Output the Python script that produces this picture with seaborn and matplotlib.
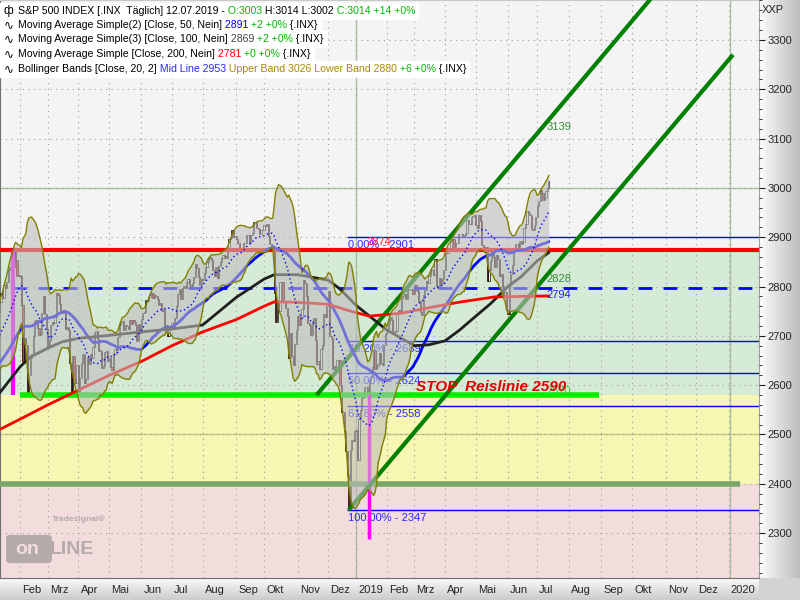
import numpy as np
import pandas as pd
import matplotlib
matplotlib.use("Agg")
import matplotlib.pyplot as plt
import matplotlib.transforms as mtransforms
from matplotlib.patches import Rectangle, FancyBboxPatch
import seaborn as sns

# ---- data -------------------------------------------------------------
# closes before the first visible bar (needed for the 20/50 day indicators)
warmup_closes = [
    2575, 2579, 2580, 2588, 2591, 2591, 2594, 2585, 2582, 2585, 2579, 2565, 2586, 2579, 2582,
    2599, 2597, 2602, 2601, 2627, 2626, 2648,
    2642, 2639, 2630, 2629, 2637, 2652, 2660, 2664, 2663, 2652, 2676, 2690, 2681, 2679, 2685,
    2683, 2681, 2683, 2688, 2674,
    2696, 2713, 2724, 2743, 2748, 2751, 2748,
]
closes_2018 = [
    # Jan (from 11.01.)
    2768, 2786, 2776, 2803, 2798, 2810, 2833, 2839, 2838, 2839, 2873, 2854, 2822, 2824,
    # Feb
    2822, 2762, 2649, 2695, 2682, 2581, 2620, 2656, 2663, 2699, 2731, 2732, 2716, 2701, 2704,
    2747, 2780, 2744, 2714,
    # Mrz
    2678, 2691, 2721, 2728, 2727, 2739, 2787, 2783, 2765, 2749, 2747, 2752, 2713, 2717, 2712,
    2644, 2588, 2659, 2613, 2605, 2641,
    # Apr
    2582, 2614, 2645, 2663, 2604, 2613, 2657, 2642, 2664, 2656, 2678, 2706, 2709, 2693, 2670,
    2670, 2635, 2639, 2667, 2670, 2648,
    # Mai
    2655, 2636, 2630, 2663, 2673, 2672, 2698, 2723, 2728, 2730, 2711, 2722, 2720, 2713, 2733,
    2724, 2733, 2728, 2721, 2690, 2724, 2705,
    # Jun
    2735, 2747, 2749, 2772, 2770, 2779, 2782, 2787, 2776, 2782, 2780, 2774, 2763, 2767, 2750,
    2755, 2717, 2723, 2700, 2716, 2718,
    # Jul
    2727, 2713, 2737, 2760, 2784, 2794, 2774, 2798, 2801, 2798, 2810, 2816, 2804, 2802, 2807,
    2820, 2846, 2837, 2819, 2803, 2816,
    # Aug
    2813, 2827, 2840, 2850, 2858, 2858, 2854, 2833, 2822, 2840, 2818, 2841, 2850, 2857, 2863,
    2862, 2857, 2875, 2897, 2898, 2914, 2901, 2902,
    # Sep
    2897, 2889, 2878, 2872, 2877, 2888, 2889, 2904, 2905, 2889, 2904, 2908, 2931, 2930, 2919,
    2916, 2906, 2914, 2914,
    # Okt
    2925, 2923, 2926, 2902, 2886, 2884, 2880, 2786, 2728, 2767, 2751, 2810, 2809, 2769, 2768,
    2756, 2741, 2656, 2706, 2659, 2641, 2683, 2712,
    # Nov
    2740, 2723, 2738, 2755, 2814, 2807, 2781, 2726, 2722, 2702, 2730, 2736, 2691, 2642, 2650,
    2633, 2673, 2682, 2744, 2738, 2760,
    # Dez
    2790, 2700, 2696, 2633, 2638, 2637, 2651, 2651, 2600, 2546, 2546, 2507, 2467, 2417, 2351,
    2468, 2489, 2486, 2507,
]
closes_2019 = [
    # Jan
    2510, 2448, 2532, 2550, 2574, 2585, 2597, 2596, 2583, 2610, 2616, 2636, 2671, 2633, 2639,
    2642, 2665, 2644, 2640, 2681, 2704,
    # Feb
    2707, 2725, 2738, 2732, 2706, 2708, 2710, 2745, 2753, 2746, 2776, 2780, 2785, 2775, 2793,
    2796, 2794, 2792, 2784,
    # Mrz
    2804, 2793, 2790, 2771, 2749, 2743, 2783, 2792, 2811, 2808, 2822, 2833, 2833, 2824, 2855,
    2801, 2798, 2818, 2805, 2815, 2834,
    # Apr
    2867, 2867, 2873, 2879, 2893, 2896, 2878, 2888, 2888, 2907, 2906, 2907, 2900, 2905, 2908,
    2934, 2927, 2926, 2940, 2943, 2946,
    # Mai
    2924, 2918, 2946, 2932, 2884, 2879, 2871, 2881, 2812, 2834, 2851, 2876, 2860, 2840, 2864,
    2856, 2822, 2826, 2802, 2783, 2789, 2752,
    # Jun
    2744, 2803, 2826, 2843, 2873, 2887, 2886, 2880, 2892, 2887, 2890, 2918, 2926, 2954, 2950,
    2945, 2917, 2914, 2925, 2942,
    # Jul
    2964, 2973, 2996, 2990, 2976, 2980, 2993, 3000, 3014,
]
holidays = [
    "2018-01-15", "2018-02-19", "2018-03-30", "2018-05-28", "2018-07-04", "2018-09-03",
    "2018-11-22", "2018-12-05", "2018-12-25", "2019-01-01", "2019-01-21", "2019-02-18",
    "2019-04-19", "2019-05-27", "2019-07-04",
]

# simple moving averages 100 / 200
sma100_dates = [
    "2018-01-11", "2018-02-01", "2018-02-12", "2018-03-01", "2018-03-15", "2018-04-02",
    "2018-05-01", "2018-06-01", "2018-07-02", "2018-08-01", "2018-09-04", "2018-10-01",
    "2018-10-10", "2018-11-01", "2018-12-03", "2018-12-14", "2019-01-02", "2019-02-01",
    "2019-03-01", "2019-03-15", "2019-04-01", "2019-04-15", "2019-05-01", "2019-05-15",
    "2019-06-03", "2019-06-14", "2019-07-01", "2019-07-12",
]
sma100_values = [
    2584, 2637, 2657, 2675, 2688, 2695, 2701, 2708, 2714, 2722, 2778, 2815,
    2824, 2824, 2813, 2795, 2762, 2712, 2680, 2682, 2690, 2712, 2740, 2765,
    2800, 2820, 2852, 2869,
]
sma200_dates = [
    "2018-01-11", "2018-02-01", "2018-03-01", "2018-04-02", "2018-05-01", "2018-06-01",
    "2018-07-02", "2018-08-01", "2018-09-04", "2018-10-01", "2018-10-10", "2018-11-01",
    "2018-12-03", "2018-12-21", "2019-01-15", "2019-02-15", "2019-03-15", "2019-04-16",
    "2019-05-20", "2019-07-12",
]
sma200_values = [
    2510, 2531, 2560, 2590, 2620, 2648, 2680, 2708, 2733, 2760, 2769, 2768,
    2764, 2752, 2740, 2746, 2757, 2769, 2779, 2781,
]

# drawing tools
resistance = 2874
support_dashed = 2797
stop_line = 2580
base_line = 2400
fib_values = [2901, 2689, 2624, 2558, 2347]
fib_labels = ["0.00% - 2901", "38.20% - 2689", "50.00% - 2624", "61.80% - 2558", "100.00% - 2347"]
channel_low = (("2018-12-24", 2347), ("2020-01-06", 3270))
channel_high = (("2018-11-20", 2580), ("2019-10-31", 3416))
marker_lines = [("2018-01-25", 2874, 2580, 3.0), ("2019-01-15", 2582, 2288, 2.5)]

months_de = ["Jan", "Feb", "Mrz", "Apr", "Mai", "Jun", "Jul", "Aug", "Sep", "Okt", "Nov", "Dez"]

# ---- prep -------------------------------------------------------------
W, H = 800, 600
FAM = ["Liberation Sans", "DejaVu Sans"]
FS = 8
LFS = 7.6
PX_PER_BAR = 1.461

hist_dates = pd.bdate_range("2018-01-11", "2019-07-12", freq="C", holidays=holidays)
future_dates = pd.bdate_range("2019-07-15", "2020-02-14")
all_dates = hist_dates.append(future_dates)


def bar_of(d):
    return int(all_dates.searchsorted(pd.Timestamp(d)))


closes = np.array(closes_2018 + closes_2019, dtype=float)
n = len(closes)
x = np.arange(n)
full = pd.Series(warmup_closes + list(closes), dtype=float)
opens = full.shift(1).to_numpy()[len(warmup_closes):]

sma50 = full.rolling(50).mean().to_numpy()[len(warmup_closes):]
bb_mid = full.rolling(20).mean()
bb_std = full.rolling(20).std(ddof=0)
bb_up = (bb_mid + 2 * bb_std).to_numpy()[len(warmup_closes):]
bb_lo = (bb_mid - 2 * bb_std).to_numpy()[len(warmup_closes):]
bb_mid = bb_mid.to_numpy()[len(warmup_closes):]

# ---- figure -----------------------------------------------------------
sns.set_style("white")
plt.rcParams["font.family"] = FAM
fig = plt.figure(figsize=(8, 6), dpi=100)

# background strips of the axis areas
bg_img = np.ones((H, W, 3))
col = np.linspace(0.99, 0.74, W - 759)
bg_img[:, 759:, :] = col[None, :, None]
row = np.linspace(0.98, 0.80, H - 578)
bg_img[578:, :759, :] = row[:, None, None]
bg_img[578:, 759:, :] = 0.83
bg = fig.add_axes([0, 0, 1, 1], zorder=-1)
bg.imshow(bg_img, aspect="auto", extent=(0, W, H, 0))
bg.axis("off")

ax = fig.add_axes([0, 22 / H, 759 / W, 578 / H], zorder=1)
x_left = 14 - 20 / PX_PER_BAR
x_right = x_left + 759 / PX_PER_BAR
ax.set_facecolor("#f4f4f4")

# zones
ax.axhspan(resistance, 3400, color="#f4f4f4", zorder=0.1, lw=0)
ax.axhspan(stop_line, resistance, color="#d6ebd6", zorder=0.1, lw=0)
ax.axhspan(base_line, stop_line, color="#f7f6b2", zorder=0.1, lw=0)
ax.axhspan(2200, base_line, color="#f3dcdc", zorder=0.1, lw=0)

# month ticks
tick_pos, tick_lab = [], []
for i in range(1, len(all_dates)):
    if all_dates[i].month != all_dates[i - 1].month and i < x_right - 3:
        d = all_dates[i]
        tick_pos.append(i)
        tick_lab.append(str(d.year) if d.month == 1 else months_de[d.month - 1])
ax.set_xticks(tick_pos)
ax.set_xticklabels(tick_lab)
ax.set_yticks(np.arange(2300, 3301, 100))
ax.set_yticks(np.arange(2220, 3381, 20), minor=True)
ax.set_xlim(x_left, x_right)
ax.set_ylim(2209, 3381)
ax.yaxis.tick_right()
ax.tick_params(axis="x", direction="out", length=4, pad=1, labelsize=FS, color="#404040")
ax.tick_params(axis="y", which="major", direction="out", length=4, pad=2, labelsize=FS,
               color="#202020")
ax.tick_params(axis="y", which="minor", direction="out", length=2, color="#202020")
offset = mtransforms.ScaledTranslation(1.5 / 72, 0, fig.dpi_scale_trans)
for lbl in ax.get_xticklabels():
    lbl.set_horizontalalignment("left")
    lbl.set_transform(lbl.get_transform() + offset)

ax.set_axisbelow(False)
ax.grid(True, which="major", color="#9a9a9a", ls=(0, (1, 4)), lw=0.8, zorder=0.5)
for s in ["left", "bottom"]:
    ax.spines[s].set_color("#707070")
ax.spines["right"].set_color("#a0a0a0")
ax.spines["top"].set_color("#c8c8c8")

# solid helper lines
ax.axhline(3000, color="#a9c4a0", lw=1, zorder=1)
ax.axhline(2500, color="#c6cf86", lw=1, zorder=1)
ax.axvline(bar_of("2019-01-02"), color="#a8c0a0", lw=1, zorder=1)
ax.axvline(bar_of("2020-01-02"), color="#a8c0a0", lw=1, zorder=1)

# candles
up = closes >= opens
body_lo = np.minimum(opens, closes)
body_h = np.maximum(np.abs(closes - opens), 1.0)
ax.bar(x[up], body_h[up], bottom=body_lo[up], width=0.8, color="white",
       edgecolor="black", linewidth=0.5, zorder=3)
ax.bar(x[~up], body_h[~up], bottom=body_lo[~up], width=0.8, color="#ff2020",
       edgecolor="black", linewidth=0.5, zorder=3)

# horizontal tool lines
ax.axhline(resistance, color="#ff0000", lw=3, zorder=4)
ax.hlines(support_dashed, bar_of("2018-01-25"), x_right, color="#0000ff", lw=2,
          linestyles=(0, (5, 4)), zorder=4)
ax.hlines(stop_line, bar_of("2018-02-01"), bar_of("2019-08-29"), color="#00ee00", lw=4, zorder=4)
ax.hlines(base_line, x_left, bar_of("2020-01-13"), color="#7aa66a", lw=4, zorder=4)
fib_start = bar_of("2018-12-21")
ax.hlines(fib_values, fib_start, x_right, color="#0000ff", lw=1, zorder=4)
for lab, v in zip(fib_labels, fib_values):
    ax.text(fib_start + 0.5, v - 16, lab, color="#2a2aff", fontsize=FS, va="center",
            ha="left", zorder=4)
ax.text(bar_of("2019-01-14") - 1, 2890, "2874", color="#ff2020", fontsize=FS, va="center",
        ha="left", zorder=4)

for d, top, bot, lw in marker_lines:
    ax.vlines(bar_of(d), bot, top, color="#ff00ff", lw=lw, zorder=4)

for (d0, v0), (d1, v1) in [channel_low, channel_high]:
    ax.plot([bar_of(d0), bar_of(d1)], [v0, v1], color="#008000", lw=3, zorder=4,
            solid_capstyle="butt")

# moving averages
sns.lineplot(x=x, y=sma50, ax=ax, color="#0000ff", lw=2, zorder=5)
ax.plot([bar_of(d) for d in sma100_dates], sma100_values, color="#202020", lw=2, zorder=5)
ax.plot([bar_of(d) for d in sma200_dates], sma200_values, color="#ff0000", lw=2, zorder=5)

# bollinger bands
ax.fill_between(x, bb_lo, bb_up, color="#bdbdbd", alpha=0.6, lw=0, zorder=6)
ax.plot(x, bb_up, color="#808000", lw=1, zorder=7)
ax.plot(x, bb_lo, color="#808000", lw=1, zorder=7)
ax.plot(x, bb_mid, color="#0000ff", lw=1, ls=(0, (1, 2)), zorder=7)

# labels at the right end of the data
last = n - 1
ax.text(last - 1.5, 3124, "3139", color="#3a8a3a", fontsize=FS, va="center", ha="left", zorder=8)
ax.text(last - 1.5, 2815, "2828", color="#3a8a3a", fontsize=FS, va="center", ha="left", zorder=8)
ax.text(last - 1.5, 2783, "2794", color="#2020ff", fontsize=FS, va="center", ha="left", zorder=8)
ax.text(last - 1.5, 2588, "2570", color="#40d040", fontsize=FS, va="center", ha="left", zorder=8)
ax.text(bar_of("2019-03-01") + 1, 2596, "STOP  Reislinie 2590", color="#e00000",
        fontsize=11, fontweight="bold", fontstyle="italic", va="center", ha="left", zorder=8)

ax.set_xlabel("")
ax.set_ylabel("")

# ---- header legend ----------------------------------------------------
renderer = fig.canvas.get_renderer()
K, G = "#000000", "#00b800"
legend_rows = [
    (11, "ф", [("S&P 500 INDEX [.INX  Täglich] 12.07.2019 -", K), (" O:3003", G),
               (" H:3014 L:3002", K), (" C:3014 +14 +0%", G)]),
    (25, "∿", [("Moving Average Simple(2) [Close, 50, Nein]", K), (" 2891", "#0000ff"),
               (" +2 +0%", G), (" {.INX}", K)]),
    (39, "∿", [("Moving Average Simple(3) [Close, 100, Nein]", K), (" 2869", "#404040"),
               (" +2 +0%", G), (" {.INX}", K)]),
    (54, "∿", [("Moving Average Simple [Close, 200, Nein]", K), (" 2781", "#ff0000"),
               (" +0 +0%", G), (" {.INX}", K)]),
    (69, "∿", [("Bollinger Bands [Close, 20, 2]", K), (" Mid Line 2953", "#2a2aff"),
               (" Upper Band 3026 Lower Band 2880", "#a88a00"), (" +6 +0%", G),
               (" {.INX}", K)]),
]
for y_px, icon, parts in legend_rows:
    fig.text(4 / W, 1 - y_px / H, icon, color=K, fontsize=LFS + 1, va="center", ha="left",
             zorder=11)
    xp = 18
    for s, c in parts:
        t = fig.text(xp / W, 1 - y_px / H, s, color=c, fontsize=LFS, va="center", ha="left",
                     zorder=11)
        xp += t.get_window_extent(renderer).width
    fig.patches.append(Rectangle((0, 1 - (y_px + 7.5) / H), (xp + 3) / W, 15 / H,
                                 transform=fig.transFigure, color="white", zorder=10))

fig.text(762 / W, 1 - 10 / H, "XXP", fontsize=FS, va="center", ha="left")

# watermark
fig.text(52 / W, 1 - 519 / H, "Tradesignal®", fontsize=6, fontweight="bold",
         color="#b4aaaa", va="center", ha="left", zorder=3)
fig.patches.append(FancyBboxPatch((10 / W, 1 - 560 / H), 38 / W, 22 / H,
                                  boxstyle="round,pad=0.004", transform=fig.transFigure,
                                  color="#b4aaaa", zorder=3))
fig.text(15 / W, 1 - 549 / H, "on", fontsize=14, fontweight="bold", color="#f3dcdc",
         va="center", ha="left", zorder=4)
fig.text(50 / W, 1 - 549 / H, "LINE", fontsize=14, fontweight="bold", color="#b4aaaa",
         va="center", ha="left", zorder=4)

fig.savefig("out.png", dpi=100)
